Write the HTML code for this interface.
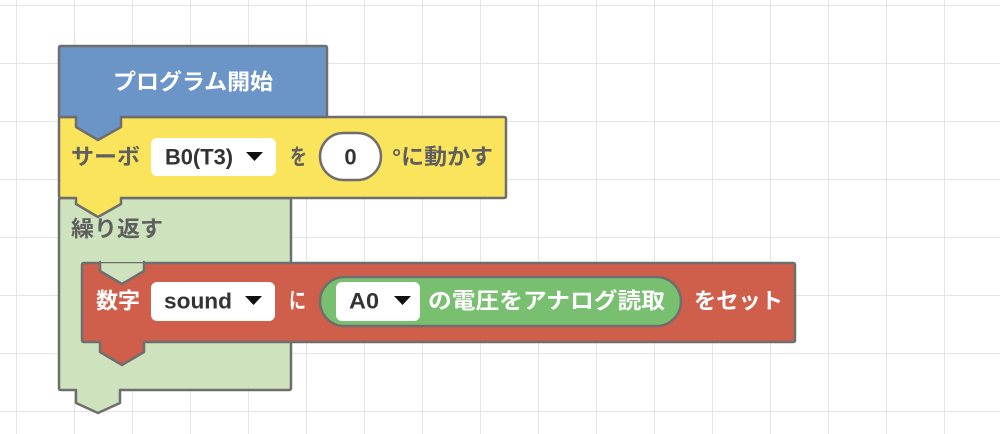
<!DOCTYPE html>
<html><head><meta charset="utf-8"><style>
html,body{margin:0;padding:0;background:#fff;}
svg{display:block}
text{font-family:"Liberation Sans","Noto Sans CJK JP",sans-serif;font-weight:bold;font-size:22px;dominant-baseline:central}
</style></head><body>
<svg width="1000" height="434" viewBox="0 0 1000 434" xmlns="http://www.w3.org/2000/svg">
<defs>
<pattern id="g" x="16" y="5" width="58" height="58" patternUnits="userSpaceOnUse">
<path d="M0,0 H58 M0,0 V58" stroke="#dcdcdc" stroke-width="1.5" fill="none"/>
</pattern>
</defs>
<rect width="1000" height="434" fill="url(#g)"/>

<!-- green C block -->
<path d="M59,200 q0,-2 2,-2 H289 q2,0 2,2 V388 q0,2 -2,2 H120 V403 L98,413 L76,403 V390 H61 q-2,0 -2,-2 Z" fill="#cde2bd" stroke="#6e6e6e" stroke-width="2.5" stroke-linejoin="round"/>
<text x="71" y="229" fill="#5f5f5f" textLength="92" lengthAdjust="spacingAndGlyphs">繰り返す</text>

<!-- red block -->
<path d="M82,265 q0,-2 2,-2 H793 q2,0 2,2 V340 q0,2 -2,2 H144 V352 L122,365 L100,352 V342 H84 q-2,0 -2,-2 Z" fill="#cf5e4b" stroke="#6e6e6e" stroke-width="2.5" stroke-linejoin="round"/>
<path d="M100,262 V271 L122,284 L144,271 V262 Z" fill="#cde2bd" stroke="#6e6e6e" stroke-width="2.5" stroke-linejoin="round"/>
<path d="M101,261 H143" stroke="#cde2bd" stroke-width="2"/>
<text x="96" y="301" fill="#fff" textLength="44" lengthAdjust="spacingAndGlyphs">数字</text>
<rect x="151" y="282" width="124" height="39" rx="6" fill="#fff"/>
<text x="164" y="301" fill="#333" textLength="68" lengthAdjust="spacingAndGlyphs">sound</text>
<path d="M245,296 h17 l-8.5,9 z" fill="#111"/>
<text x="289" y="301" fill="#fff" textLength="17" lengthAdjust="spacingAndGlyphs">に</text>
<rect x="320" y="277" width="361" height="49" rx="24.5" fill="#79bf70" stroke="#6e6e6e" stroke-width="2.5"/>
<rect x="336" y="282" width="84" height="39" rx="6" fill="#fff"/>
<text x="349" y="301" fill="#333" textLength="30" lengthAdjust="spacingAndGlyphs">A0</text>
<path d="M394,296 h17 l-8.5,9 z" fill="#111"/>
<text x="428" y="301" fill="#fff" textLength="237" lengthAdjust="spacingAndGlyphs">の電圧をアナログ読取</text>
<text x="694" y="301" fill="#fff" textLength="89" lengthAdjust="spacingAndGlyphs">をセット</text>

<!-- yellow block -->
<path d="M59,119 q0,-2 2,-2 H504 q2,0 2,2 V196 q0,2 -2,2 H121 V204 L98,217 L76,204 V198 H61 q-2,0 -2,-2 Z" fill="#fae45c" stroke="#6e6e6e" stroke-width="2.5" stroke-linejoin="round"/>
<text x="71" y="157" fill="#5f5f5f" textLength="69" lengthAdjust="spacingAndGlyphs">サーボ</text>
<rect x="151" y="138" width="125" height="38" rx="6" fill="#fff"/>
<text x="165" y="157" fill="#333" textLength="68" lengthAdjust="spacingAndGlyphs">B0(T3)</text>
<path d="M246,152 h17 l-8.5,9 z" fill="#111"/>
<text x="290" y="157" fill="#5f5f5f" textLength="17" lengthAdjust="spacingAndGlyphs">を</text>
<rect x="320" y="133" width="61" height="47" rx="23.5" fill="#fff" stroke="#6e6e6e" stroke-width="2.5"/>
<text x="350.5" y="157" fill="#333" text-anchor="middle">0</text>
<text x="392" y="157" fill="#5f5f5f" textLength="101" lengthAdjust="spacingAndGlyphs">°に動かす</text>

<!-- blue hat -->
<path d="M59,48 q0,-2 2,-2 H325 q2,0 2,2 V117 H121 V127 L98,140 L76,127 V117 H59 Z" fill="#6b94c7" stroke="#6e6e6e" stroke-width="2.5" stroke-linejoin="round"/>
<text x="113" y="82" fill="#fff" textLength="160" lengthAdjust="spacingAndGlyphs">プログラム開始</text>
</svg>
</body></html>
